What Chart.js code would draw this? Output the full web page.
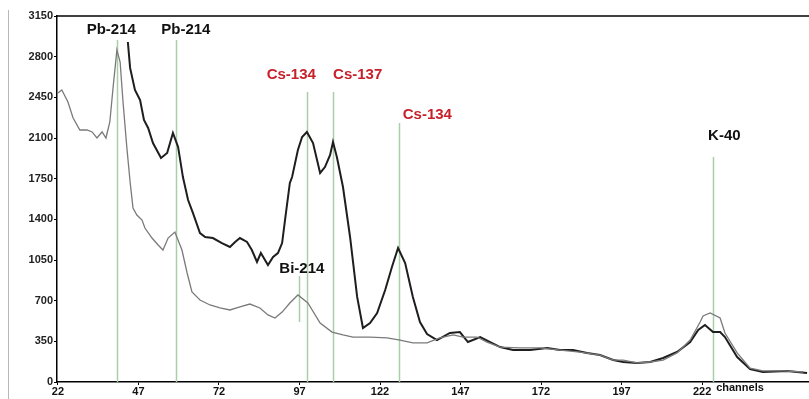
<!DOCTYPE html>
<html lang="en">

<head>
    <meta charset="UTF-8">
    <title>Gamma spectrum</title>
    <script src="https://cdn.jsdelivr.net/npm/chart.js"></script>
    <style>
        body { margin: 0; background: #fff; }
        #wrap { width: 809px; height: 399px; position: relative; }
    </style>
</head>

<body>
    <div id="wrap"><canvas id="myChart"></canvas></div>

    <script>
        // background spectrum (grey) - channel / counts
        var grayChannels = [22.0, 23.2, 25.1, 26.7, 28.8, 31.0, 32.6, 34.1, 35.7, 36.9, 38.1, 39.1, 40.3, 41.3, 42.2, 43.4, 44.4, 45.3, 46.5, 48.1, 49.0, 51.2, 53.1, 54.6, 56.2, 58.3, 60.5, 62.1, 63.6, 66.1, 69.2, 72.3, 75.4, 78.5, 81.6, 84.7, 87.2, 89.4, 91.6, 94.0, 96.5, 99.6, 103.4, 107.1, 110.5, 113.6, 118.9, 124.2, 128.2, 132.2, 136.6, 140.6, 144.7, 147.8, 152.1, 155.2, 159.3, 165.5, 171.7, 177.9, 184.1, 190.3, 194.4, 197.5, 201.8, 205.9, 209.9, 214.2, 218.3, 221.4, 222.3, 224.5, 227.6, 229.1, 232.9, 236.9, 240.9, 247.2, 253.4];
        var grayCounts = [2487, 2513, 2410, 2272, 2169, 2169, 2152, 2100, 2152, 2100, 2238, 2530, 2858, 2754, 2410, 2014, 1721, 1498, 1437, 1394, 1325, 1239, 1179, 1136, 1239, 1291, 1136, 938, 775, 706, 663, 637, 620, 646, 671, 637, 577, 551, 602, 680, 749, 680, 508, 430, 405, 387, 387, 379, 361, 336, 336, 379, 405, 387, 387, 344, 301, 293, 293, 275, 258, 232, 189, 189, 164, 172, 189, 250, 361, 516, 568, 594, 551, 422, 250, 120, 95, 95, 86];

        // sample spectrum (black)
        var blackChannels = [43.7, 44.4, 45.9, 47.5, 48.7, 50.0, 51.5, 54.0, 55.9, 57.7, 59.3, 60.8, 62.4, 63.9, 66.1, 67.7, 70.1, 72.9, 75.4, 77.0, 78.5, 80.7, 82.2, 83.8, 85.0, 87.2, 88.8, 90.3, 91.6, 92.5, 94.0, 94.7, 96.5, 97.8, 99.3, 101.2, 103.4, 104.9, 106.5, 107.4, 108.6, 110.5, 112.7, 114.9, 116.7, 118.9, 121.1, 123.6, 125.7, 127.6, 129.8, 132.2, 134.4, 136.6, 139.7, 143.7, 146.8, 149.3, 153.1, 156.2, 159.3, 163.3, 168.6, 173.9, 177.9, 181.9, 186.3, 190.3, 194.4, 197.5, 201.8, 205.9, 209.9, 214.2, 218.3, 220.8, 222.9, 225.4, 227.6, 229.1, 232.9, 236.9, 240.9, 248.4, 254.6];
        var blackCounts = [2926, 2703, 2513, 2427, 2255, 2186, 2057, 1928, 1971, 2143, 2023, 1764, 1566, 1455, 1282, 1248, 1239, 1196, 1162, 1205, 1239, 1205, 1136, 1033, 1110, 1007, 1076, 1110, 1196, 1394, 1713, 1764, 1997, 2109, 2152, 2057, 1799, 1850, 1954, 2066, 1937, 1678, 1248, 732, 465, 508, 594, 792, 990, 1153, 1024, 732, 516, 413, 361, 422, 430, 344, 387, 344, 301, 275, 275, 293, 275, 275, 250, 232, 189, 172, 164, 172, 207, 258, 344, 448, 491, 430, 430, 387, 215, 112, 86, 95, 77];

        var xTicks = [22, 47, 72, 97, 122, 147, 172, 197, 222];

        // peak markers: channel, label, colour, top of line (counts), label offset
        var markers = [
            { ch: 40.4, text: 'Pb-214', color: '#111', top: 2944, bottom: 0, dx: -6, ly: 30 },
            { ch: 58.6, text: 'Pb-214', color: '#111', top: 2944, bottom: 0, dx: 10, ly: 30 },
            { ch: 99.4, text: 'Cs-134', color: '#c8202a', top: 2496, bottom: 0, dx: -16, ly: 75 },
            { ch: 107.3, text: 'Cs-137', color: '#c8202a', top: 2496, bottom: 0, dx: 25, ly: 75 },
            { ch: 128.0, text: 'Cs-134', color: '#c8202a', top: 2229, bottom: 0, dx: 28, ly: 115 },
            { ch: 96.8, text: 'Bi-214', color: '#111', top: 912, bottom: 516, dx: 3, ly: 269 },
            { ch: 225.5, text: 'K-40', color: '#111', top: 1937, bottom: 0, dx: 11, ly: 136 }
        ];

        var peakPlugin = {
            id: 'peaks',
            beforeDatasetsDraw: function (chart) {
                var ctx = chart.ctx, xs = chart.scales.x, ys = chart.scales.y;
                ctx.save();
                ctx.strokeStyle = '#a9cfa9';
                ctx.lineWidth = 1.5;
                markers.forEach(function (m) {
                    var x = Math.round(xs.getPixelForValue(m.ch)) + 0.5;
                    ctx.beginPath();
                    ctx.moveTo(x, ys.getPixelForValue(m.top));
                    ctx.lineTo(x, ys.getPixelForValue(m.bottom));
                    ctx.stroke();
                });
                // faint scan line at far left
                ctx.strokeStyle = '#b8b8b8';
                ctx.lineWidth = 1;
                ctx.beginPath();
                ctx.moveTo(8.5, 10);
                ctx.lineTo(8.5, 399);
                ctx.stroke();
                ctx.restore();
            },
            afterDatasetsDraw: function (chart) {
                var ctx = chart.ctx, xs = chart.scales.x, area = chart.chartArea;
                ctx.save();
                // top frame line
                ctx.strokeStyle = '#000';
                ctx.lineWidth = 1.5;
                ctx.beginPath();
                ctx.moveTo(area.left, area.top);
                ctx.lineTo(area.right, area.top);
                ctx.stroke();

                ctx.textAlign = 'center';
                ctx.textBaseline = 'middle';
                ctx.font = 'bold 15px "Liberation Sans", Arial, sans-serif';
                markers.forEach(function (m) {
                    ctx.fillStyle = m.color;
                    ctx.fillText(m.text, xs.getPixelForValue(m.ch) + m.dx, m.ly);
                });
                ctx.font = 'bold 11px "Liberation Sans", Arial, sans-serif';
                ctx.fillStyle = '#111';
                ctx.fillText('channels', 740, 388);
                ctx.restore();
            }
        };

        var ctx = document.getElementById('myChart').getContext('2d');
        var myChart = new Chart(ctx, {
            type: 'line',
            data: {
                datasets: [
                    {
                        label: 'background',
                        data: grayChannels.map(function (c, i) { return { x: c, y: grayCounts[i] }; }),
                        borderColor: '#7a7a7a',
                        borderWidth: 1.3,
                        pointRadius: 0,
                        tension: 0
                    },
                    {
                        label: 'sample',
                        data: blackChannels.map(function (c, i) { return { x: c, y: blackCounts[i] }; }),
                        borderColor: '#1e1e1e',
                        borderWidth: 2,
                        pointRadius: 0,
                        tension: 0
                    }
                ]
            },
            options: {
                responsive: true,
                maintainAspectRatio: false,
                animation: false,
                layout: { padding: { top: 16, right: 0, left: 0, bottom: 0 } },
                plugins: { legend: { display: false }, tooltip: { enabled: false } },
                scales: {
                    x: {
                        type: 'linear',
                        min: 21.7,
                        max: 255.2,
                        afterBuildTicks: function (scale) {
                            scale.ticks = xTicks.map(function (v) { return { value: v }; });
                        },
                        afterFit: function (scale) { scale.height = 17; },
                        grid: { drawOnChartArea: false, tickLength: 3, color: '#000' },
                        border: { color: '#000', width: 1.5 },
                        ticks: {
                            padding: 0,
                            maxRotation: 0,
                            autoSkip: false,
                            color: '#111',
                            callback: function (v) { return String(v); },
                            font: { family: '"Liberation Sans", Arial, sans-serif', size: 11, weight: 'bold' }
                        }
                    },
                    y: {
                        min: 0,
                        max: 3150,
                        afterFit: function (scale) { scale.width = 57; },
                        grid: { drawOnChartArea: false, tickLength: 3, color: '#000' },
                        border: { color: '#000', width: 1.5 },
                        ticks: {
                            stepSize: 350,
                            padding: 1,
                            color: '#222',
                            callback: function (v) { return String(v); },
                            font: { family: '"Liberation Sans", Arial, sans-serif', size: 11, weight: 'bold' }
                        }
                    }
                }
            },
            plugins: [peakPlugin]
        });
    </script>
</body>

</html>
